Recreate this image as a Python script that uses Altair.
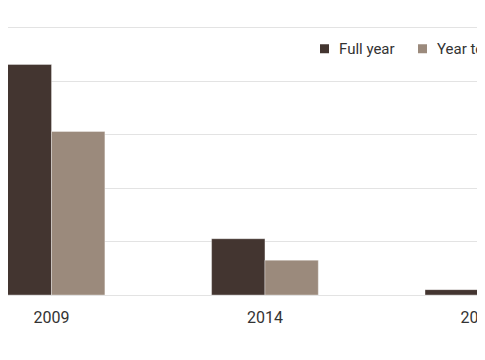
import altair as alt
import pandas as pd

years = ["2009", "2014", "2019"]
full_year = [43.0, 10.5, 1.0]
year_to_date = [30.5, 6.5, None]
series = ["Full year", "Year to date"]
colors = ["#433530", "#9b8a7c"]
grid_values = [0, 10, 20, 30, 40, 50]

rows = []
for y, f, d in zip(years, full_year, year_to_date):
    rows.append({"year": y, "series": series[0], "value": f})
    if d is not None:
        rows.append({"year": y, "series": series[1], "value": d})
df = pd.DataFrame(rows)

FONT = "Roboto"

chart = alt.Chart(df).mark_bar(
    clip=True, stroke="#ffffff", strokeOpacity=0.35, strokeWidth=1
).encode(
    x=alt.X(
        "year:N",
        scale=alt.Scale(domain=years, range=[-63.2, 577.1], paddingInner=0.5, paddingOuter=0.25),
        axis=alt.Axis(
            title=None, ticks=False, domain=False, labelAngle=0,
            labelFont=FONT, labelFontSize=16, labelColor="#333333",
            labelPadding=14, grid=False,
        ),
    ),
    xOffset=alt.XOffset("series:N", scale=alt.Scale(domain=series)),
    y=alt.Y(
        "value:Q",
        scale=alt.Scale(domain=[0, 50], nice=False),
        axis=alt.Axis(
            title=None, labels=False, ticks=False, domain=False,
            values=grid_values, gridColor="#e3e3e3", gridWidth=1,
        ),
    ),
    color=alt.Color(
        "series:N",
        scale=alt.Scale(domain=series, range=colors),
        legend=alt.Legend(
            title=None, orient="none", legendX=309, legendY=14,
            direction="horizontal", symbolType="square", symbolSize=81,
            symbolStrokeWidth=0, labelFont=FONT, labelFontSize=15,
            labelColor="#333333", labelOffset=7, columnPadding=20,
        ),
    ),
).properties(
    width=469,
    height=268,
    padding={"top": 19, "left": 0, "right": 0, "bottom": 50},
    autosize=alt.AutoSizeParams(type="none"),
).configure_view(stroke=None)

chart.save("out.html", embed_options={"renderer": "svg", "actions": False})
